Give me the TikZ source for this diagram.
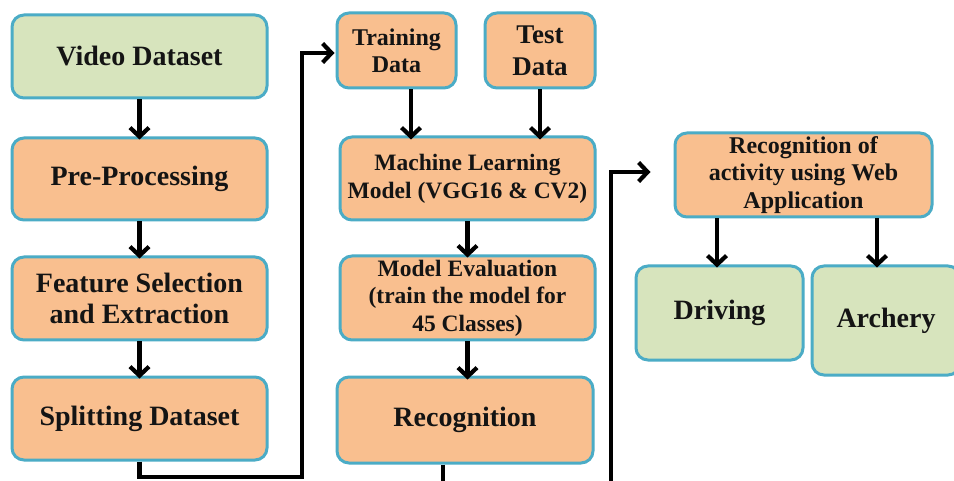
\documentclass[tikz,border=0pt]{standalone}
\usepackage{fontspec}
\setmainfont{Liberation Serif}
\usetikzlibrary{arrows.meta,calc}
\definecolor{bordc}{HTML}{4BACC6}
\definecolor{orfill}{HTML}{F9BF8F}
\definecolor{grfill}{HTML}{D7E4BD}
\definecolor{txtc}{HTML}{141414}
\begin{document}
\begin{tikzpicture}[x=1pt,y=-1pt,
  box/.style={draw=bordc,line width=3pt,rounded corners=12pt,align=center,
    inner sep=0pt,text=txtc,font=\bfseries\fontsize{28}{31}\selectfont},
  obox/.style={box,fill=orfill},
  gbox/.style={box,fill=grfill},
  flow/.style={line width=4.2pt,black,-{Straight Barb[length=9pt,width=19pt]}},
  wire/.style={line width=4.2pt,black}]
\useasboundingbox (0,0) rectangle (954,481);
\clip (0,0) rectangle (954,481);
\fill[white] (0,0) rectangle (954,481);
% left column
\node[gbox,minimum width=255pt,minimum height=83pt] (vd) at (139.5,56.5) {Video Dataset};
\node[obox,minimum width=255pt,minimum height=82pt] (pp) at (139.5,179) {Pre-Processing};
\node[obox,minimum width=255pt,minimum height=83pt] (fs) at (139.5,298.5) {Feature Selection\\and Extraction};
\node[obox,minimum width=255pt,minimum height=83pt] (sd) at (139.5,418.5) {Splitting Dataset};
% middle column
\node[obox,minimum width=119pt,minimum height=75pt,font=\bfseries\fontsize{24}{27}\selectfont] (td) at (396.5,50.5) {Training\\Data};
\node[obox,minimum width=110pt,minimum height=75pt,font=\bfseries\fontsize{27}{32}\selectfont] (ts) at (540,50.5) {Test\\Data};
\node[obox,minimum width=255pt,minimum height=83pt,font=\bfseries\fontsize{23.5}{28}\selectfont] (ml) at (467.5,178.5) {Machine Learning\\Model (VGG16 \& CV2)};
\node[obox,minimum width=255pt,minimum height=84pt,font=\bfseries\fontsize{23.5}{27.5}\selectfont] (me) at (467.5,298) {Model Evaluation\\(train the model for\\45 Classes)};
\node[obox,minimum width=256pt,minimum height=86pt] (rc) at (465,420) {Recognition};
% right column
\node[obox,minimum width=257pt,minimum height=84pt,font=\bfseries\fontsize{24}{27.5}\selectfont] (ra) at (803.5,175) {Recognition of\\activity using Web\\Application};
\node[gbox,minimum width=167pt,minimum height=94pt] (dr) at (719.5,313) {Driving};
\node[gbox,minimum width=148pt,minimum height=109pt] (ar) at (886,320.5) {Archery};
% arrows
\draw[flow] (vd.south) -- ([yshift=-3pt]pp.north);
\draw[flow] (pp.south) -- ([yshift=-3pt]fs.north);
\draw[flow] (fs.south) -- ([yshift=-3pt]sd.north);
\draw[flow] ([xshift=14.5pt]td.south) -- ([yshift=-4pt]ml.north -| {$(td.south)+(14.5,0)$});
\draw[flow] (ts.south) -- ([yshift=-4pt]ml.north -| ts.south);
\draw[flow] (ml.south) -- ([yshift=-3pt]me.north -| ml.south);
\draw[flow] (me.south) -- ([yshift=-4pt]rc.north -| me.south);
\draw[flow] ([xshift=-2.5pt]ra.south -| dr.north) -- ([xshift=-2.5pt,yshift=-3pt]dr.north);
\draw[flow] ([xshift=-9pt]ra.south -| ar.north) -- ([xshift=-9pt,yshift=-3pt]ar.north);
% long connectors
\draw[flow] (sd.south) |- (302,477) |- ([yshift=-2.5pt,xshift=-1pt]td.west);
\draw[flow,shorten >=23pt] ([xshift=-22pt]rc.south) |- (611,495) |- ([yshift=3pt]ra.west);
\end{tikzpicture}
\end{document}
